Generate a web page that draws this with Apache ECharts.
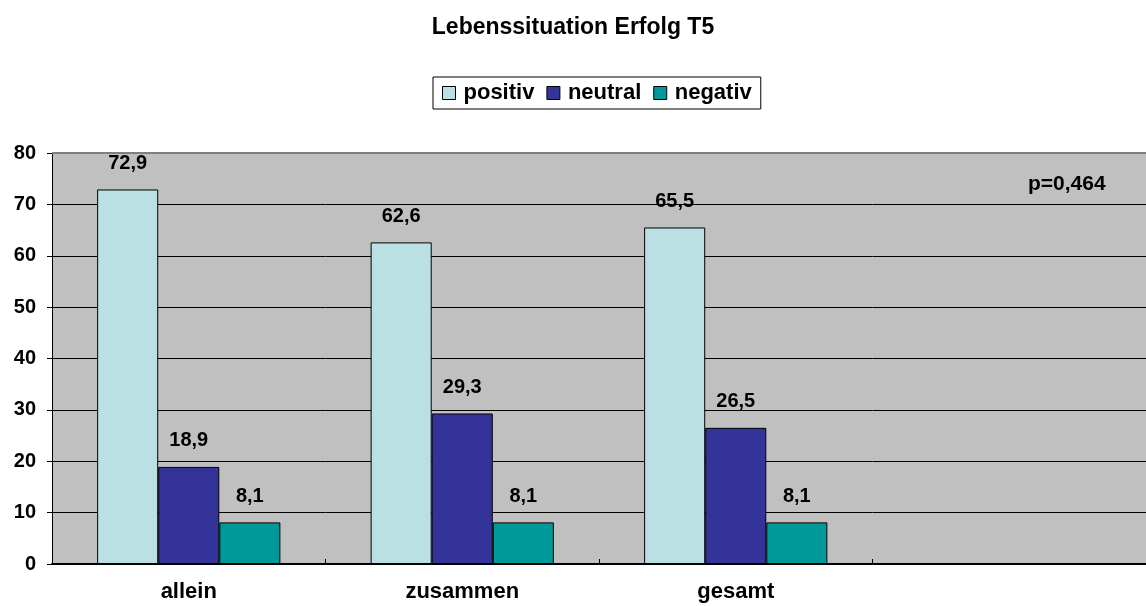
<!DOCTYPE html>
<html>
<head>
<meta charset="utf-8">
<script src="https://cdn.jsdelivr.net/npm/echarts@6/dist/echarts.min.js"></script>
<style>
  html, body { margin: 0; padding: 0; background: #fff; }
  #chart { width: 1146px; height: 606px; }
</style>
</head>
<body>
<div id="chart"></div>
<script>
// chart data
const categories = ['allein', 'zusammen', 'gesamt', ''];
const positiv = [72.9, 62.6, 65.5, null];
const neutral = [18.9, 29.3, 26.5, null];
const negativ = [8.1, 8.1, 8.1, null];
const pValueText = 'p=0,464';

const chart = echarts.init(document.getElementById('chart'));

const fontFamily = '"Liberation Sans", Arial, sans-serif';

// labels use german decimal comma
function commaLabel(p) {
  return p.value == null ? '' : String(p.value.toFixed(1)).replace('.', ',');
}

function barSeries(name, data, color) {
  return {
    name: name,
    type: 'bar',
    data: data,
    barGap: '0%',
    barCategoryGap: '33%',
    itemStyle: { color: color, borderColor: '#000', borderWidth: 1 },
    label: {
      show: true,
      position: 'top',
      distance: 16,
      formatter: commaLabel,
      fontFamily: fontFamily,
      fontWeight: 'bold',
      fontSize: 20,
      color: '#000'
    },
    emphasis: { disabled: true }
  };
}

const option = {
  animation: false,
  backgroundColor: '#fff',
  title: {
    text: 'Lebenssituation Erfolg T5',
    left: 'center',
    top: 11,
    textStyle: { fontFamily: fontFamily, fontWeight: 'bold', fontSize: 23, color: '#000' }
  },
  legend: {
    top: 77,
    left: 433,
    itemWidth: 13,
    itemHeight: 13,
    itemGap: 12,
    padding: [5, 9, 5, 9],
    borderColor: '#000',
    borderWidth: 1,
    icon: 'rect',
    itemStyle: { borderColor: '#000', borderWidth: 1 },
    textStyle: { fontFamily: fontFamily, fontWeight: 'bold', fontSize: 22, color: '#000', padding: [0, 0, 0, 3] },
    data: ['positiv', 'neutral', 'negativ']
  },
  grid: {
    left: 52,
    top: 153,
    width: 1096,
    height: 411,
    show: true,
    backgroundColor: '#C0C0C0',
    borderWidth: 0
  },
  xAxis: {
    type: 'category',
    data: categories,
    axisLine: { lineStyle: { color: '#000', width: 2 } },
    axisTick: { show: true, inside: true, length: 5, lineStyle: { color: '#000' } },
    axisLabel: {
      margin: 17,
      fontFamily: fontFamily,
      fontWeight: 'bold',
      fontSize: 22,
      color: '#000'
    }
  },
  yAxis: {
    type: 'value',
    min: 0,
    max: 80,
    interval: 10,
    axisLine: { show: true, lineStyle: { color: '#000', width: 1 } },
    axisTick: { show: true, length: 5, lineStyle: { color: '#000' } },
    splitLine: { lineStyle: { color: '#000', width: 1 } },
    axisLabel: {
      margin: 16,
      fontFamily: fontFamily,
      fontWeight: 'bold',
      fontSize: 20,
      color: '#000'
    }
  },
  series: [
    barSeries('positiv', positiv, '#BBE0E3'),
    barSeries('neutral', neutral, '#333399'),
    barSeries('negativ', negativ, '#009999')
  ],
  graphic: [
    {
      type: 'line',
      shape: { x1: 52, y1: 153, x2: 1146, y2: 153 },
      style: { stroke: '#808080', lineWidth: 2 },
      z: 10
    },
    {
      type: 'text',
      left: 1028,
      top: 174,
      style: {
        text: pValueText,
        fontFamily: fontFamily,
        fontWeight: 'bold',
        fontSize: 21,
        fill: '#000'
      },
      z: 10
    }
  ]
};

chart.setOption(option);
</script>
</body>
</html>
